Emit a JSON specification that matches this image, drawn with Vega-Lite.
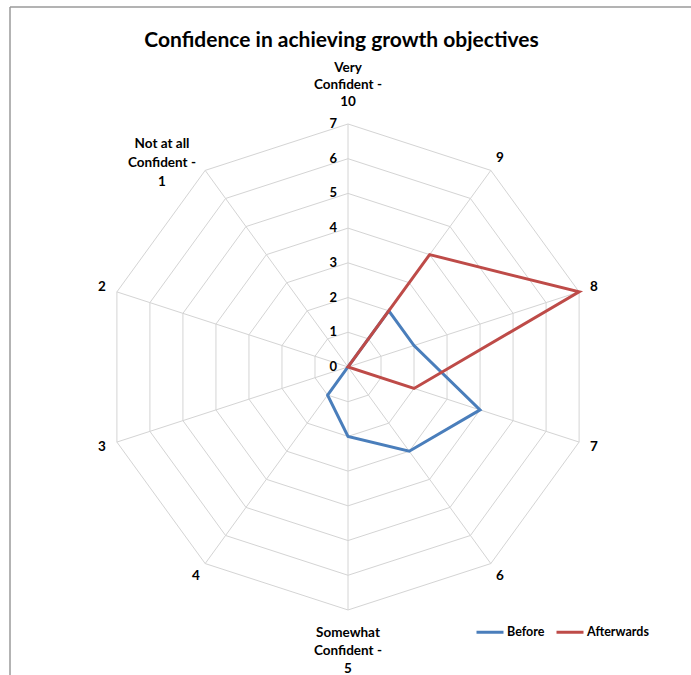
{
  "$schema": "https://vega.github.io/schema/vega-lite/v6.json",
  "width": 681,
  "height": 668,
  "autosize": {"type": "none"},
  "padding": {"left": 10, "top": 7, "right": 0, "bottom": 0},
  "background": "white",
  "config": {"view": {"stroke": null}, "font": "Lato"},
  "title": {
    "text": "Confidence in achieving growth objectives",
    "font": "Lato",
    "fontSize": 21,
    "fontWeight": "bold",
    "color": "#000000",
    "anchor": "middle",
    "frame": "group",
    "dx": -9,
    "offset": -45
  },
  "datasets": {
    "axes": [
      {"idx": 0, "label": "Very\nConfident -\n10", "rings": [0, 1, 2, 3, 4, 5, 6, 7]},
      {"idx": 1, "label": "9", "rings": [0, 1, 2, 3, 4, 5, 6, 7]},
      {"idx": 2, "label": "8", "rings": [0, 1, 2, 3, 4, 5, 6, 7]},
      {"idx": 3, "label": "7", "rings": [0, 1, 2, 3, 4, 5, 6, 7]},
      {"idx": 4, "label": "6", "rings": [0, 1, 2, 3, 4, 5, 6, 7]},
      {"idx": 5, "label": "Somewhat\nConfident -\n5", "rings": [0, 1, 2, 3, 4, 5, 6, 7]},
      {"idx": 6, "label": "4", "rings": [0, 1, 2, 3, 4, 5, 6, 7]},
      {"idx": 7, "label": "3", "rings": [0, 1, 2, 3, 4, 5, 6, 7]},
      {"idx": 8, "label": "2", "rings": [0, 1, 2, 3, 4, 5, 6, 7]},
      {"idx": 9, "label": "Not at all\nConfident -\n1", "rings": [0, 1, 2, 3, 4, 5, 6, 7]}
    ],
    "levels": [
      {"level": 0}, {"level": 1}, {"level": 2}, {"level": 3},
      {"level": 4}, {"level": 5}, {"level": 6}, {"level": 7}
    ],
    "scores": [
      {"series": "Before", "idx": 0, "value": 0},
      {"series": "Before", "idx": 1, "value": 2},
      {"series": "Before", "idx": 2, "value": 2},
      {"series": "Before", "idx": 3, "value": 4},
      {"series": "Before", "idx": 4, "value": 3},
      {"series": "Before", "idx": 5, "value": 2},
      {"series": "Before", "idx": 6, "value": 1},
      {"series": "Before", "idx": 7, "value": 0},
      {"series": "Before", "idx": 8, "value": 0},
      {"series": "Before", "idx": 9, "value": 0},
      {"series": "Afterwards", "idx": 0, "value": 0},
      {"series": "Afterwards", "idx": 1, "value": 4},
      {"series": "Afterwards", "idx": 2, "value": 7},
      {"series": "Afterwards", "idx": 3, "value": 2},
      {"series": "Afterwards", "idx": 4, "value": 0},
      {"series": "Afterwards", "idx": 5, "value": 0},
      {"series": "Afterwards", "idx": 6, "value": 0},
      {"series": "Afterwards", "idx": 7, "value": 0},
      {"series": "Afterwards", "idx": 8, "value": 0},
      {"series": "Afterwards", "idx": 9, "value": 0}
    ]
  },
  "layer": [
    {
      "data": {"name": "axes"},
      "transform": [
        {"flatten": ["rings"], "as": ["ring"]},
        {"calculate": "datum.idx * PI / 5", "as": "a"},
        {"calculate": "datum.ring * sin(datum.a)", "as": "gx"},
        {"calculate": "datum.ring * cos(datum.a)", "as": "gy"}
      ],
      "mark": {"type": "line", "interpolate": "linear-closed", "stroke": "#D4D4D4", "strokeWidth": 1},
      "encoding": {
        "x": {"field": "gx", "type": "quantitative", "scale": {"domain": [-9.737, 9.881], "nice": false, "zero": false}, "axis": null},
        "y": {"field": "gy", "type": "quantitative", "scale": {"domain": [-8.873, 10.37], "nice": false, "zero": false}, "axis": null},
        "detail": {"field": "ring", "type": "nominal"},
        "order": {"field": "idx", "type": "quantitative"}
      }
    },
    {
      "data": {"name": "axes"},
      "transform": [
        {"flatten": ["rings"], "as": ["ring"]},
        {"calculate": "datum.idx * PI / 5", "as": "a"},
        {"calculate": "datum.ring * sin(datum.a)", "as": "gx"},
        {"calculate": "datum.ring * cos(datum.a)", "as": "gy"}
      ],
      "mark": {"type": "line", "stroke": "#D4D4D4", "strokeWidth": 1},
      "encoding": {
        "x": {"field": "gx", "type": "quantitative"},
        "y": {"field": "gy", "type": "quantitative"},
        "detail": {"field": "idx", "type": "nominal"},
        "order": {"field": "ring", "type": "quantitative"}
      }
    },
    {
      "data": {"values": [{}]},
      "mark": {"type": "rule", "stroke": "#9A9A9A", "strokeWidth": 1.5},
      "encoding": {
        "x": {"datum": -9.737, "type": "quantitative"}
      }
    },
    {
      "data": {"values": [{}]},
      "mark": {"type": "rule", "stroke": "#9A9A9A", "strokeWidth": 1.5},
      "encoding": {
        "y": {"datum": 10.37, "type": "quantitative"}
      }
    },
    {
      "data": {"name": "scores"},
      "transform": [
        {"filter": "datum.series === 'Before'"},
        {"calculate": "datum.idx * PI / 5", "as": "a"},
        {"calculate": "datum.value * sin(datum.a)", "as": "px"},
        {"calculate": "datum.value * cos(datum.a)", "as": "py"}
      ],
      "mark": {"type": "line", "interpolate": "linear-closed", "strokeWidth": 3, "strokeJoin": "miter"},
      "encoding": {
        "x": {"field": "px", "type": "quantitative"},
        "y": {"field": "py", "type": "quantitative"},
        "order": {"field": "idx", "type": "quantitative"},
        "color": {
          "field": "series",
          "type": "nominal",
          "scale": {"domain": ["Before", "Afterwards"], "range": ["#4A7EBB", "#BE4B48"]},
          "legend": {
            "title": null,
            "orient": "none",
            "legendX": 465,
            "legendY": 610,
            "direction": "horizontal",
            "symbolType": "stroke",
            "symbolSize": 729,
            "symbolStrokeWidth": 3,
            "labelFont": "Lato",
            "labelFontSize": 12.5,
            "labelFontWeight": "bold",
            "labelColor": "#000000",
            "labelOffset": 2,
            "columnPadding": 5
          }
        }
      }
    },
    {
      "data": {"name": "scores"},
      "transform": [
        {"filter": "datum.series === 'Afterwards'"},
        {"calculate": "datum.idx * PI / 5", "as": "a"},
        {"calculate": "datum.value * sin(datum.a)", "as": "px"},
        {"calculate": "datum.value * cos(datum.a)", "as": "py"}
      ],
      "mark": {"type": "line", "interpolate": "linear-closed", "strokeWidth": 3, "strokeJoin": "miter"},
      "encoding": {
        "x": {"field": "px", "type": "quantitative"},
        "y": {"field": "py", "type": "quantitative"},
        "order": {"field": "idx", "type": "quantitative"},
        "color": {"field": "series", "type": "nominal"}
      }
    },
    {
      "data": {"name": "levels"},
      "mark": {"type": "text", "align": "right", "baseline": "middle", "dx": -11, "fontSize": 13, "fontWeight": "bold", "color": "#000000", "font": "Lato"},
      "encoding": {
        "x": {"datum": 0, "type": "quantitative"},
        "y": {"field": "level", "type": "quantitative"},
        "text": {"field": "level", "type": "quantitative"}
      }
    },
    {
      "data": {"name": "axes"},
      "transform": [
        {"filter": "datum.idx !== 0 && datum.idx !== 5 && datum.idx !== 9"},
        {"calculate": "datum.idx * PI / 5", "as": "a"},
        {"calculate": "7.45 * sin(datum.a)", "as": "lx"},
        {"calculate": "7.45 * cos(datum.a)", "as": "ly"}
      ],
      "mark": {"type": "text", "align": "center", "baseline": "middle", "fontSize": 13.5, "fontWeight": "bold", "color": "#000000", "font": "Lato"},
      "encoding": {
        "x": {"field": "lx", "type": "quantitative"},
        "y": {"field": "ly", "type": "quantitative"},
        "text": {"field": "label", "type": "nominal"}
      }
    },
    {
      "data": {"name": "axes"},
      "transform": [
        {"filter": "datum.idx === 0"},
        {"calculate": "datum.idx * PI / 5", "as": "a"},
        {"calculate": "7.45 * sin(datum.a)", "as": "lx"},
        {"calculate": "7.45 * cos(datum.a)", "as": "ly"}
      ],
      "mark": {"type": "text", "align": "center", "baseline": "top", "dy": -47, "lineBreak": "\n", "lineHeight": 17, "fontSize": 13.5, "fontWeight": "bold", "color": "#000000", "font": "Lato"},
      "encoding": {
        "x": {"field": "lx", "type": "quantitative"},
        "y": {"field": "ly", "type": "quantitative"},
        "text": {"field": "label", "type": "nominal"}
      }
    },
    {
      "data": {"name": "axes"},
      "transform": [
        {"filter": "datum.idx === 5"},
        {"calculate": "datum.idx * PI / 5", "as": "a"},
        {"calculate": "7.45 * sin(datum.a)", "as": "lx"},
        {"calculate": "7.45 * cos(datum.a)", "as": "ly"}
      ],
      "mark": {"type": "text", "align": "center", "baseline": "top", "lineBreak": "\n", "lineHeight": 18, "fontSize": 13.5, "fontWeight": "bold", "color": "#000000", "font": "Lato"},
      "encoding": {
        "x": {"field": "lx", "type": "quantitative"},
        "y": {"field": "ly", "type": "quantitative"},
        "text": {"field": "label", "type": "nominal"}
      }
    },
    {
      "data": {"name": "axes"},
      "transform": [
        {"filter": "datum.idx === 9"},
        {"calculate": "datum.idx * PI / 5", "as": "a"},
        {"calculate": "7.45 * sin(datum.a)", "as": "lx"},
        {"calculate": "7.45 * cos(datum.a)", "as": "ly"}
      ],
      "mark": {"type": "text", "align": "center", "baseline": "middle", "dx": -34, "dy": -14, "lineBreak": "\n", "lineHeight": 19, "fontSize": 13.5, "fontWeight": "bold", "color": "#000000", "font": "Lato"},
      "encoding": {
        "x": {"field": "lx", "type": "quantitative"},
        "y": {"field": "ly", "type": "quantitative"},
        "text": {"field": "label", "type": "nominal"}
      }
    }
  ]
}
